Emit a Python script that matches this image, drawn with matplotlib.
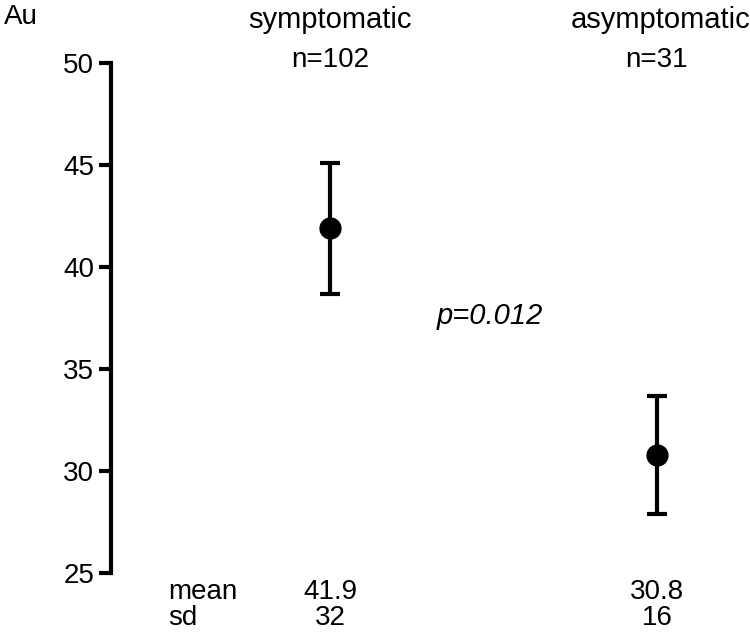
import matplotlib
matplotlib.use('Agg')
from matplotlib import pyplot as plt

groups = ['symptomatic', 'asymptomatic']
n_labels = ['n=102', 'n=31']
means = [41.9, 30.8]
err = [3.2, 2.9]
mean_labels = ['41.9', '30.8']
sd_labels = ['32', '16']
yticks = [25, 30, 35, 40, 45, 50]
p_text = 'p=0.012'

plt.rcParams['font.family'] = ['Liberation Sans', 'DejaVu Sans']
fs = 20

fig = plt.figure(figsize=(7.5, 6.33), dpi=100)
ax = fig.add_axes([111/750, 60/633, 629/750, 510/633])

xs = [0, 1]
ax.errorbar(xs, means, yerr=err, fmt='o', color='black', ms=15,
            elinewidth=3, capsize=7, capthick=3)

ax.set_ylim(25, 50)
ax.set_xlim(-0.67, 1.254)
ax.set_yticks(yticks)
ax.tick_params(axis='y', labelsize=fs, width=3, length=9, pad=3)
ax.set_xticks([])
for s in ['top', 'right', 'bottom']:
    ax.spines[s].set_visible(False)
ax.spines['left'].set_linewidth(3)

tr = ax.get_xaxis_transform()
for i in range(len(groups)):
    ax.text(xs[i] + 0.01 * i, 1.085, groups[i], transform=tr, ha='center', va='center', fontsize=21, clip_on=False)
    ax.text(xs[i], 1.006, n_labels[i], transform=tr, ha='center', va='center', fontsize=fs, clip_on=False)
    ax.text(xs[i], -0.037, mean_labels[i], transform=tr, ha='center', va='center', fontsize=fs, clip_on=False)
    ax.text(xs[i], -0.088, sd_labels[i], transform=tr, ha='center', va='center', fontsize=fs, clip_on=False)

ax.text(-0.495, -0.037, 'mean', transform=tr, ha='left', va='center', fontsize=fs, clip_on=False)
ax.text(-0.495, -0.088, 'sd', transform=tr, ha='left', va='center', fontsize=fs, clip_on=False)
ax.text(0.49, 37.6, p_text, ha='center', va='center', fontsize=21, style='italic')
fig.text(4/750, 1 - 17/633, 'Au', ha='left', va='center', fontsize=fs)

fig.savefig('out.png', dpi=100)
